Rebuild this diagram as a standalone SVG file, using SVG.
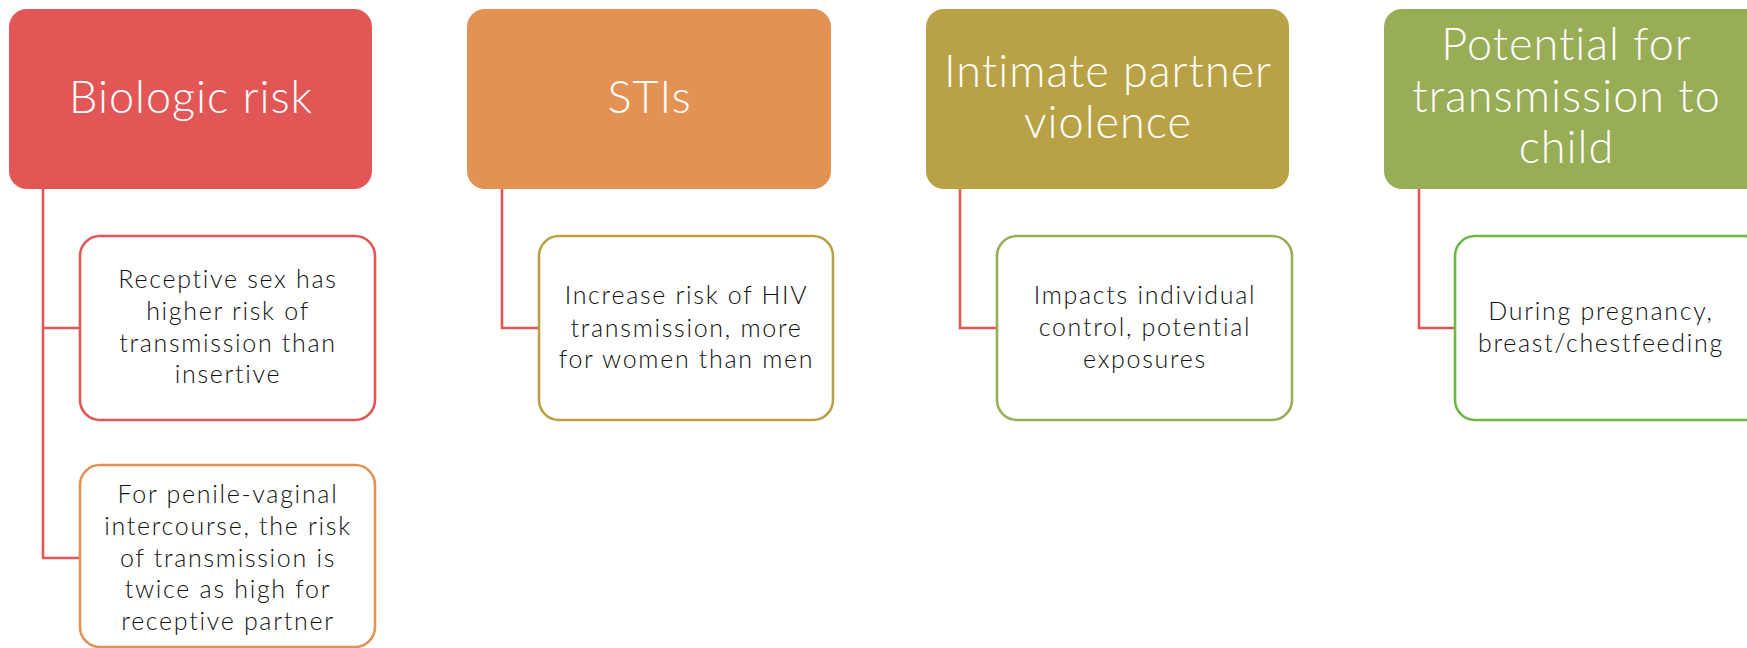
<svg xmlns="http://www.w3.org/2000/svg" width="1747" height="648" viewBox="0 0 1747 648">
  <style>
    .hdr { stroke: none; }
    .hdr-text { font-family: Lato, "Open Sans", sans-serif; font-weight: 300; font-size: 45px; fill: #ffffff; text-anchor: middle; letter-spacing: 1px; }
    .box { fill: #ffffff; stroke-width: 2.6; }
    .box-text { font-family: Lato, "Open Sans", sans-serif; font-weight: 300; font-size: 25px; fill: #111111; text-anchor: middle; letter-spacing: 1.7px; }
    .link { fill: none; stroke: #E35656; stroke-width: 2.6; }
  </style>
  <rect width="1747" height="648" fill="#ffffff"/>

  <!-- connectors -->
  <g id="connectors">
    <path class="link" d="M43,189 V558 H80 M43,328 H80"/>
    <path class="link" d="M502,189 V328 H539"/>
    <path class="link" d="M960,189 V328 H997"/>
    <path class="link" d="M1419,189 V328 H1455"/>
  </g>

  <!-- column 1 -->
  <g id="hdr-biologic">
    <rect class="hdr" x="9" y="9" width="363" height="180" rx="18" fill="#E35656"/>
    <text class="hdr-text" x="191" y="113">Biologic risk</text>
  </g>
  <g id="box-receptive">
    <rect class="box" x="80" y="236" width="295" height="184" rx="20" stroke="#E35656"/>
    <text class="box-text" x="228" y="288">Receptive sex has</text>
    <text class="box-text" x="228" y="320">higher risk of</text>
    <text class="box-text" x="228" y="352">transmission than</text>
    <text class="box-text" x="228" y="383">insertive</text>
  </g>
  <g id="box-penile">
    <rect class="box" x="80" y="465" width="295" height="182" rx="20" stroke="#E49154"/>
    <text class="box-text" x="228" y="503">For penile-vaginal</text>
    <text class="box-text" x="228" y="535">intercourse, the risk</text>
    <text class="box-text" x="228" y="567">of transmission is</text>
    <text class="box-text" x="228" y="598">twice as high for</text>
    <text class="box-text" x="228" y="630">receptive partner</text>
  </g>

  <!-- column 2 -->
  <g id="hdr-stis">
    <rect class="hdr" x="467" y="9" width="364" height="180" rx="18" fill="#E49154"/>
    <text class="hdr-text" x="649.5" y="113">STIs</text>
  </g>
  <g id="box-stis">
    <rect class="box" x="539" y="236" width="294" height="184" rx="20" stroke="#B8A245"/>
    <text class="box-text" x="686.5" y="304">Increase risk of HIV</text>
    <text class="box-text" x="686.5" y="337">transmission, more</text>
    <text class="box-text" x="686.5" y="368">for women than men</text>
  </g>

  <!-- column 3 -->
  <g id="hdr-ipv">
    <rect class="hdr" x="926" y="9" width="363" height="180" rx="18" fill="#B8A245"/>
    <text class="hdr-text" x="1108" y="87">Intimate partner</text>
    <text class="hdr-text" x="1108" y="138">violence</text>
  </g>
  <g id="box-ipv">
    <rect class="box" x="997" y="236" width="295" height="184" rx="20" stroke="#97AD56"/>
    <text class="box-text" x="1145" y="304">Impacts individual</text>
    <text class="box-text" x="1145" y="336">control, potential</text>
    <text class="box-text" x="1145" y="368">exposures</text>
  </g>

  <!-- column 4 -->
  <g id="hdr-child">
    <rect class="hdr" x="1384" y="9" width="380" height="180" rx="18" fill="#97AD56"/>
    <text class="hdr-text" x="1566.5" y="60">Potential for</text>
    <text class="hdr-text" x="1566.5" y="112">transmission to</text>
    <text class="hdr-text" x="1566.5" y="163">child</text>
  </g>
  <g id="box-child">
    <rect class="box" x="1455" y="236" width="310" height="184" rx="20" stroke="#6DB845"/>
    <text class="box-text" x="1601" y="320">During pregnancy,</text>
    <text class="box-text" x="1601" y="352">breast/chestfeeding</text>
  </g>
</svg>
